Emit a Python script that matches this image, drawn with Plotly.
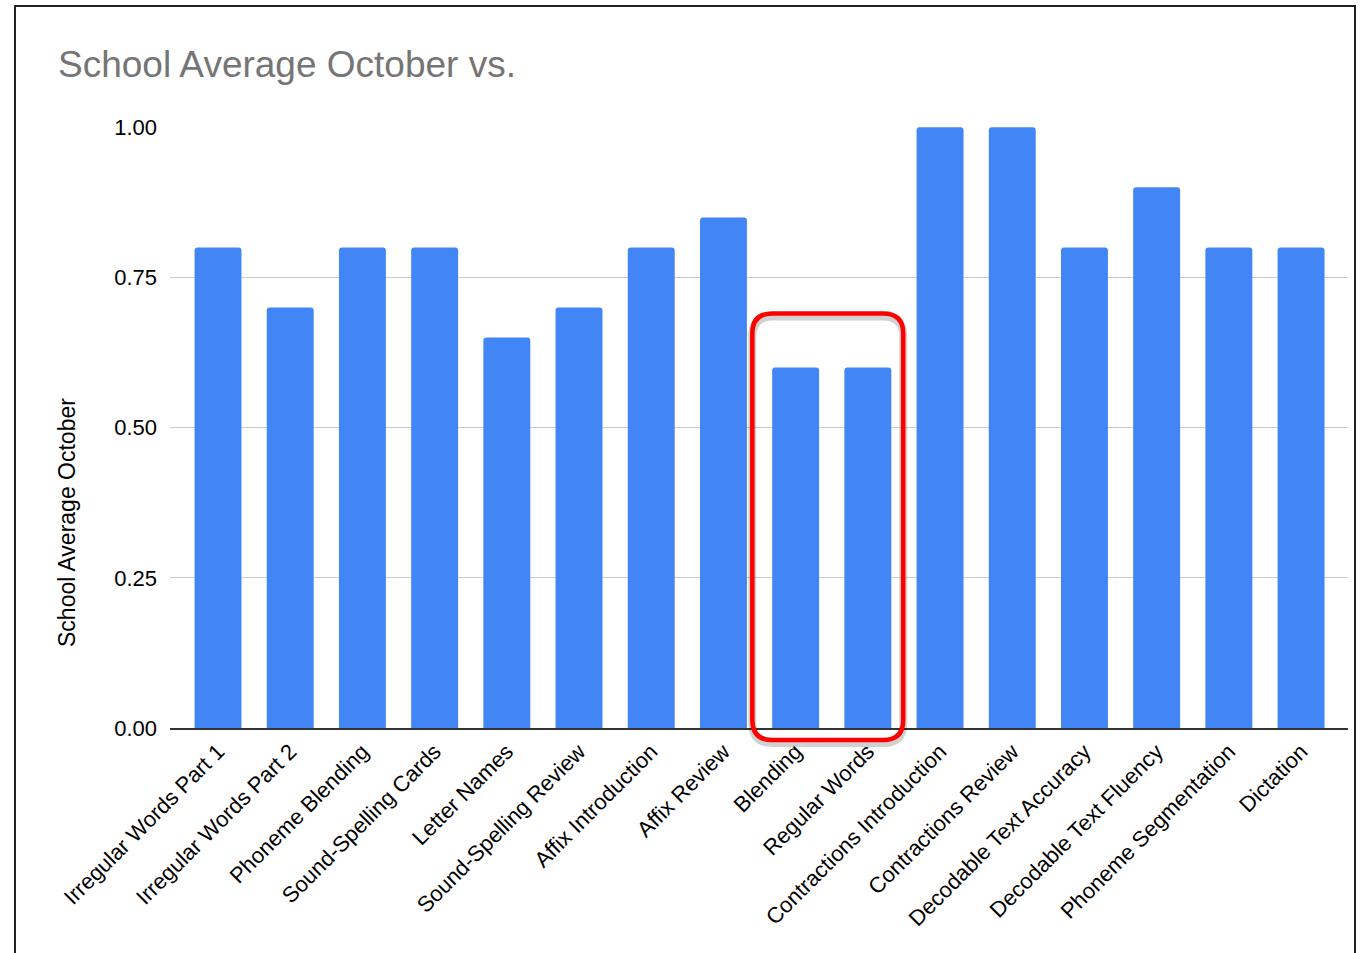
import plotly.graph_objects as go

categories = [
    "Irregular Words Part 1", "Irregular Words Part 2", "Phoneme Blending",
    "Sound-Spelling Cards", "Letter Names", "Sound-Spelling Review",
    "Affix Introduction", "Affix Review", "Blending", "Regular Words",
    "Contractions Introduction", "Contractions Review",
    "Decodable Text Accuracy", "Decodable Text Fluency",
    "Phoneme Segmentation", "Dictation",
]
school_avg_october = [0.80, 0.70, 0.80, 0.80, 0.65, 0.70, 0.80, 0.85,
                      0.60, 0.60, 1.00, 1.00, 0.80, 0.90, 0.80, 0.80]
y_ticks = [0.0, 0.25, 0.5, 0.75, 1.0]
highlighted = ["Blending", "Regular Words"]

FONT = "Liberation Sans, Arial, sans-serif"
W, H = 1361, 953
ML, MR, MT, MB = 170, 13, 127, 225
plot_w = W - ML - MR
plot_h = H - MT - MB

fig = go.Figure(go.Bar(
    x=list(range(len(categories))),
    y=school_avg_october,
    marker=dict(color="#4285F4", line=dict(width=0)),
    width=0.65,
    hoverinfo="skip",
))

# rounded highlight box around the two lowest categories
i0 = categories.index(highlighted[0])
i1 = categories.index(highlighted[-1])
x0, x1 = i0 - 0.60, i1 + 0.49
y0 = -12 / plot_h
y1 = (0.6 * plot_h + 54) / plot_h
unit_px = plot_w / (len(categories) - 1 + 0.665 + 0.65)
rx, ry = 20 / unit_px, 20 / plot_h


def rounded_rect(a0, b0, a1, b1):
    return (f"M {a0+rx},{b0} L {a1-rx},{b0} Q {a1},{b0} {a1},{b0+ry} "
            f"L {a1},{b1-ry} Q {a1},{b1} {a1-rx},{b1} L {a0+rx},{b1} "
            f"Q {a0},{b1} {a0},{b1-ry} L {a0},{b0+ry} Q {a0},{b0} {a0+rx},{b0} Z")


shadow_dy = 3 / plot_h
shapes = [
    dict(type="path", xref="x", yref="paper",
         path=rounded_rect(x0, y0 - shadow_dy, x1, y1 - shadow_dy),
         line=dict(color="rgba(0,0,0,0.18)", width=8), layer="above"),
    dict(type="path", xref="x", yref="paper",
         path=rounded_rect(x0, y0, x1, y1),
         line=dict(color="#FF0000", width=4.5), layer="above"),
    # outer frame
    dict(type="rect", xref="paper", yref="paper",
         x0=(15 - ML) / plot_w, x1=(1355 - ML) / plot_w,
         y0=-0.5, y1=(H - MB - 6) / plot_h,
         line=dict(color="#222222", width=2), layer="below"),
]

fig.update_layout(
    width=W, height=H,
    margin=dict(l=ML, r=MR, t=MT, b=MB),
    paper_bgcolor="white", plot_bgcolor="white",
    showlegend=False,
    barcornerradius=3,
    font=dict(family=FONT, color="#000000"),
    title=dict(
        text="School Average October vs.",
        font=dict(family=FONT, size=37, color="#757575"),
        xref="container", x=58 / W, xanchor="left",
        yref="container", y=1 - 64 / H, yanchor="middle",
    ),
    xaxis=dict(
        range=[-0.665, len(categories) - 1 + 0.65],
        tickmode="array",
        tickvals=list(range(len(categories))),
        ticktext=categories,
        tickangle=-45,
        tickfont=dict(family=FONT, size=22, color="#000000"),
        showgrid=False, zeroline=False,
        showline=True, linecolor="#333333", linewidth=2,
        ticks="",
    ),
    yaxis=dict(
        range=[0, 1.0005],
        tickmode="array",
        tickvals=y_ticks,
        ticktext=[f"{v:.2f}" for v in y_ticks],
        tickfont=dict(family=FONT, size=22, color="#000000"),
        showgrid=True, gridcolor="#CCCCCC", gridwidth=1,
        zeroline=False, showline=False, ticks="",
        ticklabelstandoff=12,
    ),
    shapes=shapes,
    annotations=[
        dict(text="School Average October", textangle=-90,
             xref="paper", yref="paper",
             x=(67 - ML) / plot_w, y=(H - MB - 522) / plot_h,
             xanchor="center", yanchor="middle", showarrow=False,
             font=dict(family=FONT, size=23, color="#000000")),
    ],
)

fig.write_html("out.html")
